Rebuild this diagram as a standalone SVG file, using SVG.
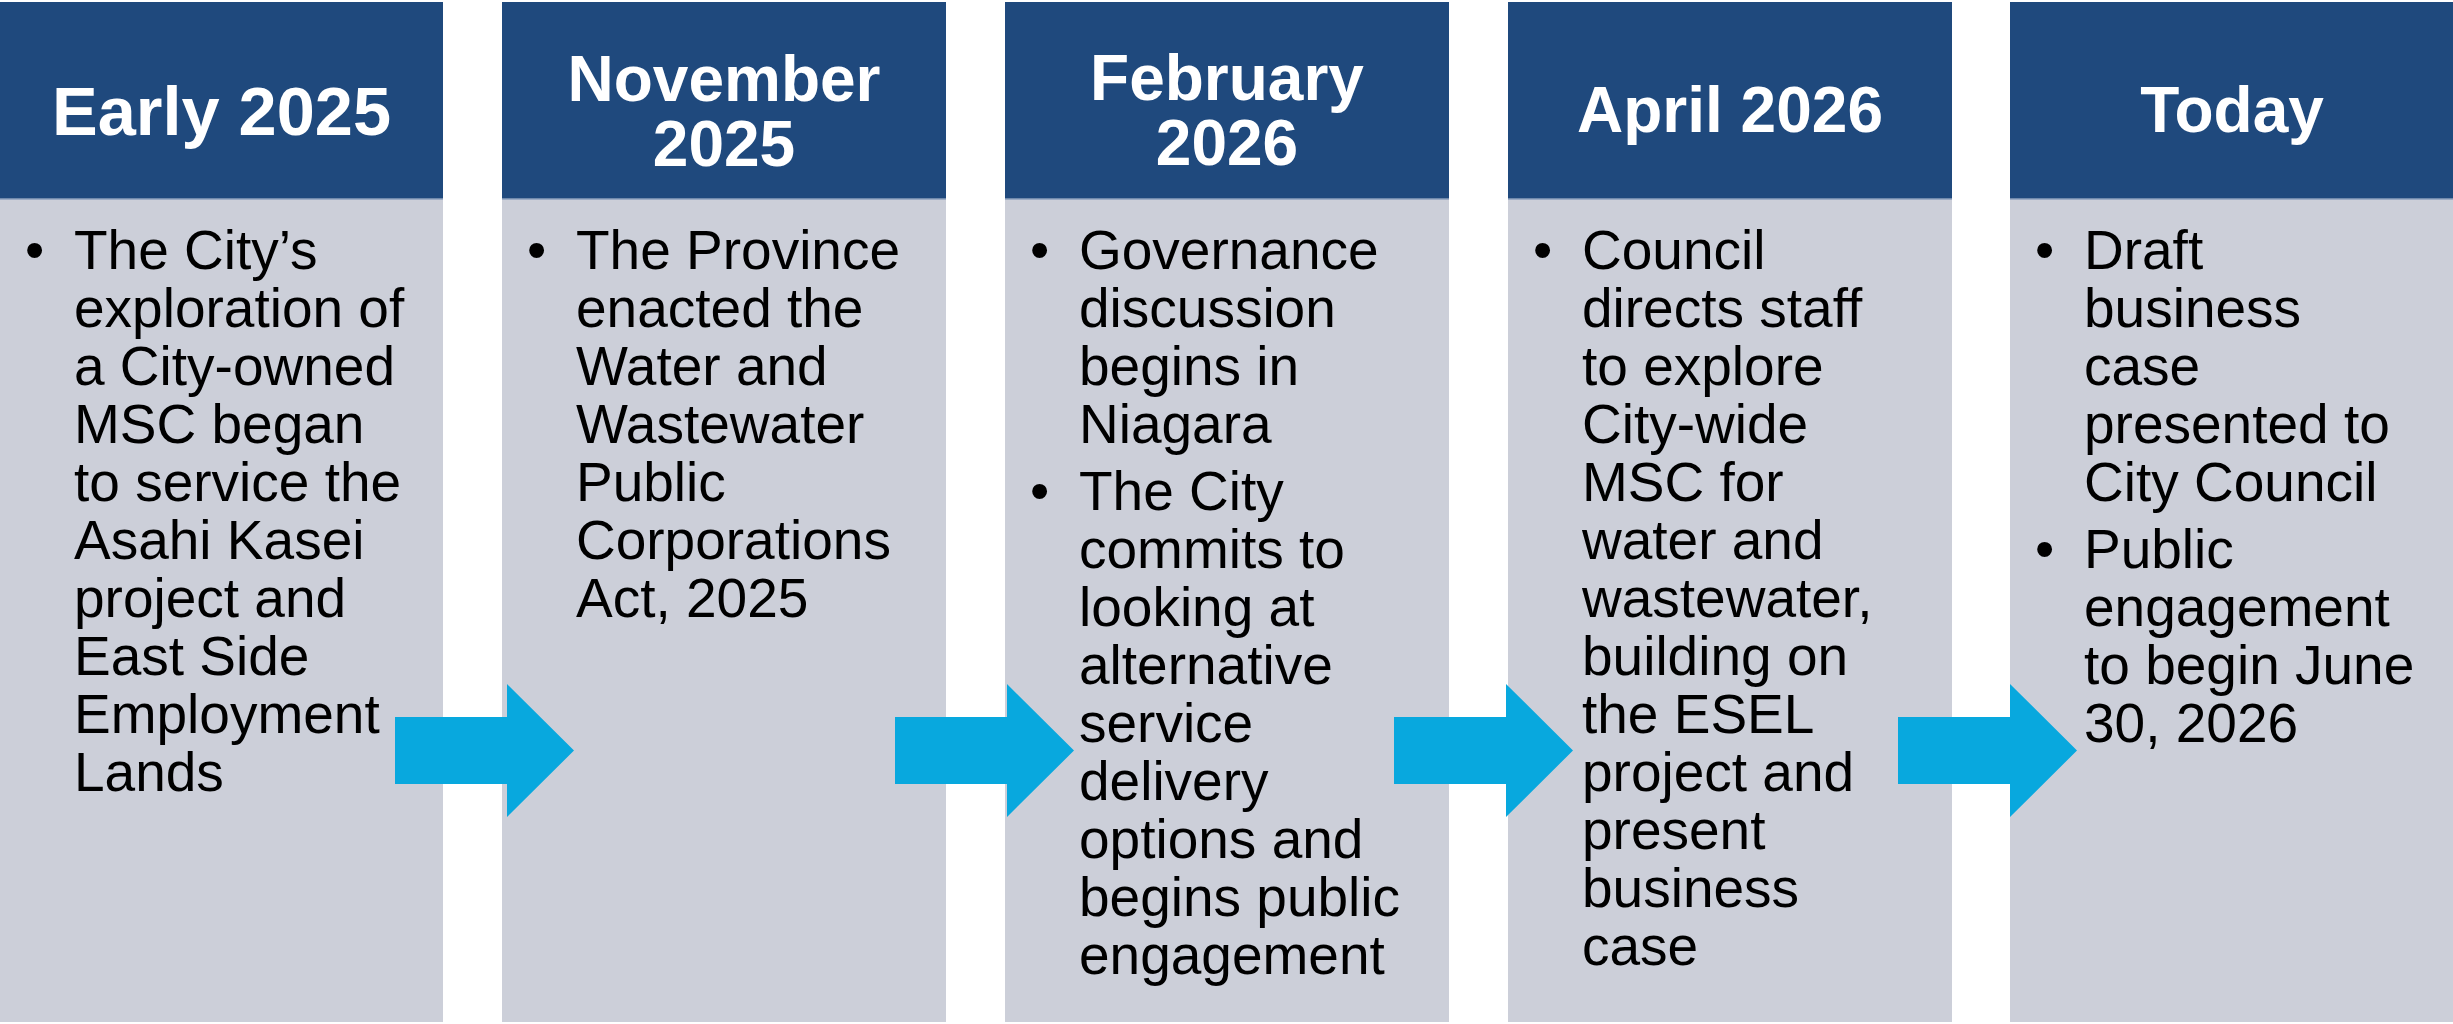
<svg xmlns="http://www.w3.org/2000/svg" width="2453" height="1024" viewBox="0 0 2453 1024">
<defs>
<style>
.hdr{fill:#1F497D;}
.body{fill:#CCCFD9;}
.sep{stroke:#8DA0BE;stroke-width:1.5;}
.ht{font-family:"Liberation Sans",Arial,sans-serif;font-weight:bold;font-size:64px;fill:#FFFFFF;text-anchor:middle;}
.bt{font-family:"Liberation Sans",Arial,sans-serif;font-size:55px;fill:#000000;}
.arrow{fill:#08A8DE;}
</style>
<path id="arr" d="M0,717 H112 V684 L179,750.5 L112,817 V784 H0 Z"/>
</defs>
<rect width="2453" height="1024" fill="#FFFFFF"/>

<g id="node-early-2025">
<rect class="body" x="0" y="199" width="443" height="823"/>
<rect class="hdr" x="0" y="2" width="443" height="197"/>
<line class="sep" x1="0" y1="199" x2="443" y2="199"/>
<text class="ht" x="221.5" y="135" style="font-size:68.5px">Early 2025</text>
<text class="bt">
<tspan x="25" y="269">•</tspan>
<tspan x="74" y="269">The City’s</tspan>
<tspan x="74" y="327">exploration of</tspan>
<tspan x="74" y="385">a City-owned</tspan>
<tspan x="74" y="443">MSC began</tspan>
<tspan x="74" y="501">to service the</tspan>
<tspan x="74" y="559">Asahi Kasei</tspan>
<tspan x="74" y="617">project and</tspan>
<tspan x="74" y="675">East Side</tspan>
<tspan x="74" y="733">Employment</tspan>
<tspan x="74" y="791">Lands</tspan>
</text>
</g>

<g id="node-november-2025">
<rect class="body" x="502" y="199" width="444" height="823"/>
<rect class="hdr" x="502" y="2" width="444" height="197"/>
<line class="sep" x1="502" y1="199" x2="946" y2="199"/>
<text class="ht"><tspan x="724" y="101">November</tspan><tspan x="724" y="166">2025</tspan></text>
<text class="bt">
<tspan x="527" y="269">•</tspan>
<tspan x="576" y="269">The Province</tspan>
<tspan x="576" y="327">enacted the</tspan>
<tspan x="576" y="385">Water and</tspan>
<tspan x="576" y="443">Wastewater</tspan>
<tspan x="576" y="501">Public</tspan>
<tspan x="576" y="559">Corporations</tspan>
<tspan x="576" y="617">Act, 2025</tspan>
</text>
</g>

<g id="node-february-2026">
<rect class="body" x="1005" y="199" width="444" height="823"/>
<rect class="hdr" x="1005" y="2" width="444" height="197"/>
<line class="sep" x1="1005" y1="199" x2="1449" y2="199"/>
<text class="ht"><tspan x="1227" y="100">February</tspan><tspan x="1227" y="165">2026</tspan></text>
<text class="bt">
<tspan x="1030" y="269">•</tspan>
<tspan x="1079" y="269">Governance</tspan>
<tspan x="1079" y="327">discussion</tspan>
<tspan x="1079" y="385">begins in</tspan>
<tspan x="1079" y="443">Niagara</tspan>
<tspan x="1030" y="510">•</tspan>
<tspan x="1079" y="510">The City</tspan>
<tspan x="1079" y="568">commits to</tspan>
<tspan x="1079" y="626">looking at</tspan>
<tspan x="1079" y="684">alternative</tspan>
<tspan x="1079" y="742">service</tspan>
<tspan x="1079" y="800">delivery</tspan>
<tspan x="1079" y="858">options and</tspan>
<tspan x="1079" y="916">begins public</tspan>
<tspan x="1079" y="974">engagement</tspan>
</text>
</g>

<g id="node-april-2026">
<rect class="body" x="1508" y="199" width="444" height="823"/>
<rect class="hdr" x="1508" y="2" width="444" height="197"/>
<line class="sep" x1="1508" y1="199" x2="1952" y2="199"/>
<text class="ht" x="1730" y="132">April 2026</text>
<text class="bt">
<tspan x="1533" y="269">•</tspan>
<tspan x="1582" y="269">Council</tspan>
<tspan x="1582" y="327">directs staff</tspan>
<tspan x="1582" y="385">to explore</tspan>
<tspan x="1582" y="443">City-wide</tspan>
<tspan x="1582" y="501">MSC for</tspan>
<tspan x="1582" y="559">water and</tspan>
<tspan x="1582" y="617">wastewater,</tspan>
<tspan x="1582" y="675">building on</tspan>
<tspan x="1582" y="733">the ESEL</tspan>
<tspan x="1582" y="791">project and</tspan>
<tspan x="1582" y="849">present</tspan>
<tspan x="1582" y="907">business</tspan>
<tspan x="1582" y="965">case</tspan>
</text>
</g>

<g id="node-today">
<rect class="body" x="2010" y="199" width="443" height="823"/>
<rect class="hdr" x="2010" y="2" width="443" height="197"/>
<line class="sep" x1="2010" y1="199" x2="2453" y2="199"/>
<text class="ht" x="2232" y="132">Today</text>
<text class="bt">
<tspan x="2035" y="269">•</tspan>
<tspan x="2084" y="269">Draft</tspan>
<tspan x="2084" y="327">business</tspan>
<tspan x="2084" y="385">case</tspan>
<tspan x="2084" y="443">presented to</tspan>
<tspan x="2084" y="501">City Council</tspan>
<tspan x="2035" y="568">•</tspan>
<tspan x="2084" y="568">Public</tspan>
<tspan x="2084" y="626">engagement</tspan>
<tspan x="2084" y="684">to begin June</tspan>
<tspan x="2084" y="742">30, 2026</tspan>
</text>
</g>

<g id="connectors">
<use href="#arr" class="arrow" x="395" y="0"/>
<use href="#arr" class="arrow" x="895" y="0"/>
<use href="#arr" class="arrow" x="1394" y="0"/>
<use href="#arr" class="arrow" x="1898" y="0"/>
</g>
</svg>
